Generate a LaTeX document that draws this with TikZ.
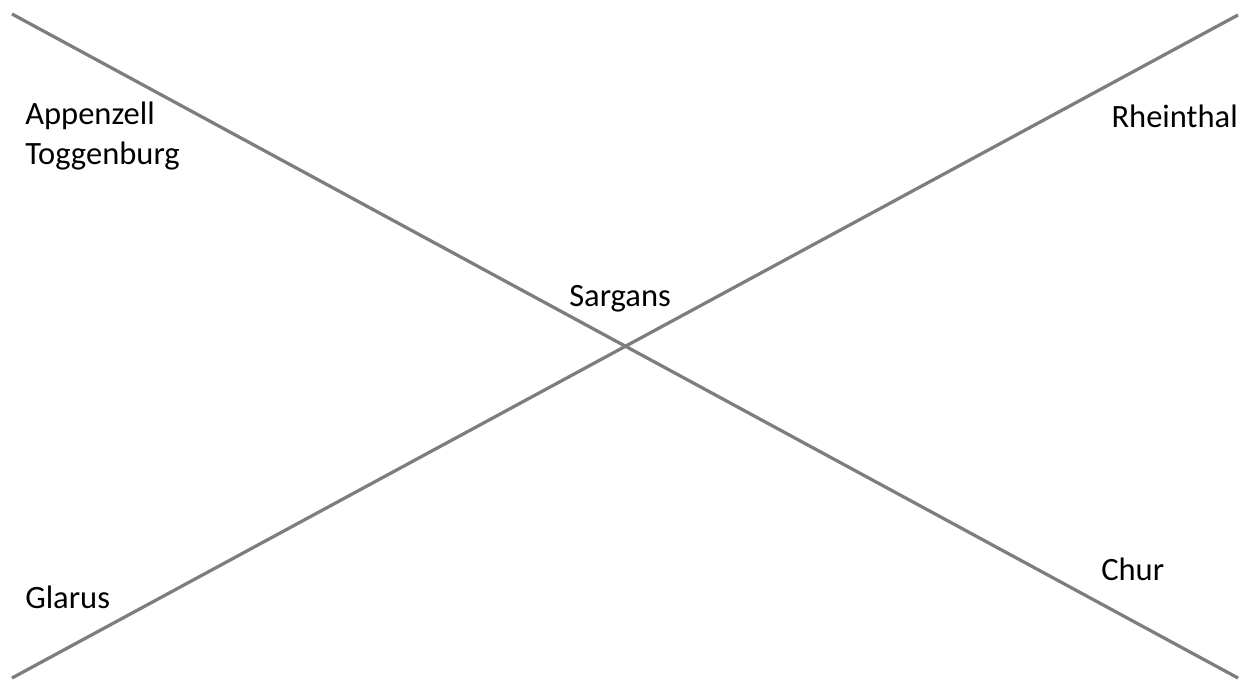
\documentclass[tikz,border=0pt]{standalone}
\usepackage{fontspec}
\setmainfont{Carlito}
\begin{document}
\begin{tikzpicture}[x=0.75pt,y=-0.75pt,
  lbl/.style={anchor=base west,inner sep=0pt,font=\fontsize{24.4}{30}\selectfont,text=black},
  xline/.style={draw=gray!98!black,line width=2.3pt},
  xshadow/.style={draw=black!25,line width=2.6pt,opacity=0.6}]
\useasboundingbox[fill=white] (0,0) rectangle (1248,680);
\coordinate (tl) at (12,14);
\coordinate (br) at (1238,678);
\coordinate (bl) at (12,678);
\coordinate (tr) at (1238,15);
\draw[xshadow,shift={(1,2)}] (tl) -- (br);
\draw[xshadow,shift={(1,2)}] (bl) -- (tr);
\draw[xline] (tl) -- (br);
\draw[xline] (bl) -- (tr);
\node[lbl] (app) at (25,125) {Appenzell};
\node[lbl] (tog) at (25,165) {Toggenburg};
\node[lbl,anchor=base east] (rhe) at (1238,128) {Rheinthal};
\node[lbl] (sar) at (569,307) {Sargans};
\node[lbl] (gla) at (25,608) {Glarus};
\node[lbl] (chu) at (1101,580) {Chur};
\end{tikzpicture}
\end{document}
